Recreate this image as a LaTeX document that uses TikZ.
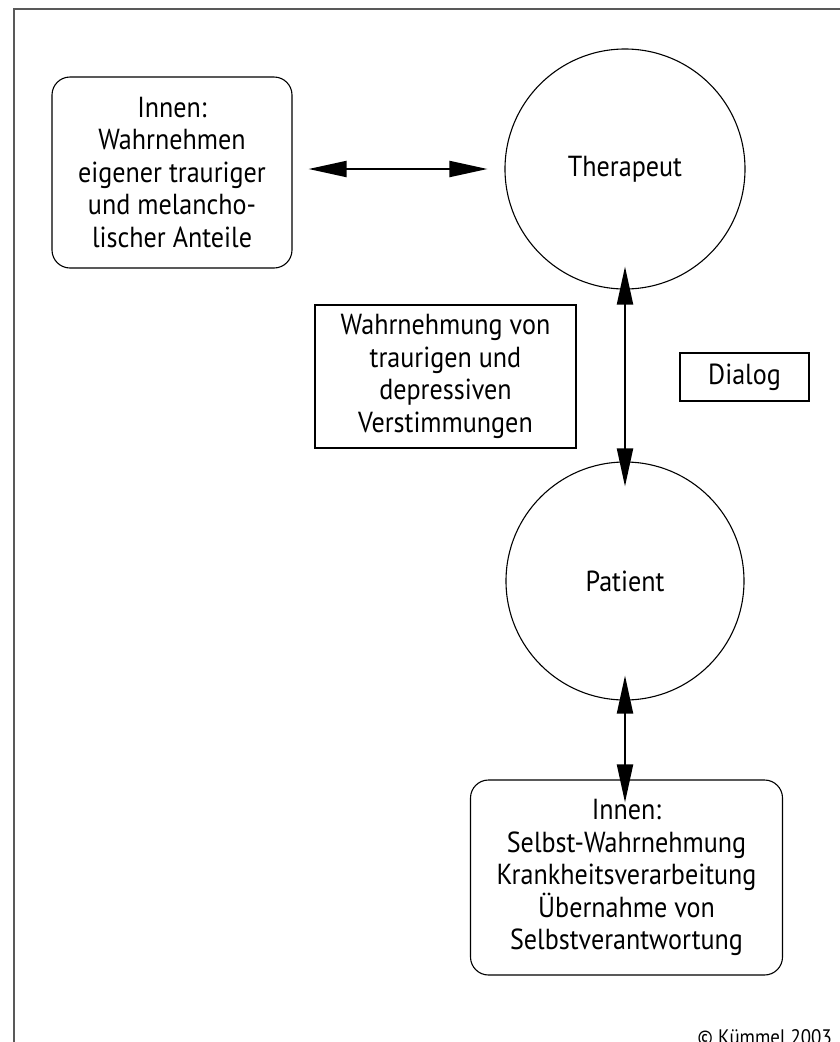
\documentclass[tikz,border=0pt]{standalone}
\usepackage{fontspec}
\setmainfont{PT Sans}[FakeStretch=0.9]
\usetikzlibrary{arrows.meta}
\begin{document}
\begin{tikzpicture}[x=1pt,y=-1pt,
  lbl/.style={font={\fontsize{29}{32.5}\selectfont}, align=center, inner sep=0pt},
  roundbox/.style={lbl, draw, line width=1.1pt, rounded corners=18pt},
  plainbox/.style={lbl, draw, line width=1.1pt},
  person/.style={lbl, draw, circle, line width=1.1pt},
  dbl/.style={line width=2pt, {Triangle[length=38pt,width=16pt]}-{Triangle[length=38pt,width=16pt]}},
  frameline/.style={draw=black!65, line width=1.6pt}
]
\clip (0,0) rectangle (840,1042);
\fill[white] (0,0) rectangle (840,1042);

% outer frame, running off the right and bottom edges
\draw[frameline] (14,1050) -- (14,9) -- (850,9);

% boxes
\node[roundbox, minimum width=240pt, minimum height=191pt] (inT) at (172,172.5)
  {Innen:\\Wahrnehmen\\eigener trauriger\\und melancho-\\lischer Anteile};
\node[plainbox, minimum width=261pt, minimum height=143pt] (wahr) at (445.5,376.5)
  {Wahrnehmung von\\traurigen und\\depressiven\\Verstimmungen};
\node[plainbox, minimum width=129pt, minimum height=48pt] (dialog) at (744.5,377)
  {Dialog};
\node[roundbox, minimum width=312pt, minimum height=195pt] (inP) at (626.5,877.5)
  {Innen:\\Selbst-Wahrnehmung\\Krankheitsverarbeitung\\Übernahme von\\Selbstverantwortung};

% persons
\node[person, minimum size=240pt] (ther) at (625,169) {Therapeut};
\node[person, minimum size=238pt] (pat) at (625,581) {Patient};

% connectors
\draw[dbl, shorten <=16pt, shorten >=17pt] (inT.east |- ther.west) -- (ther.west);
\draw[dbl, shorten <=-23pt, shorten >=-25pt] (ther.south) -- (pat.north);
\draw[dbl, shorten <=-25pt, shorten >=-23pt] (pat.south) -- (pat.south |- inP.north);

% credit line
\node[font={\fontsize{21}{24}\selectfont}, anchor=north east, inner sep=0pt] (credit) at (832,1029)
  {© Kümmel 2003};
\end{tikzpicture}
\end{document}
